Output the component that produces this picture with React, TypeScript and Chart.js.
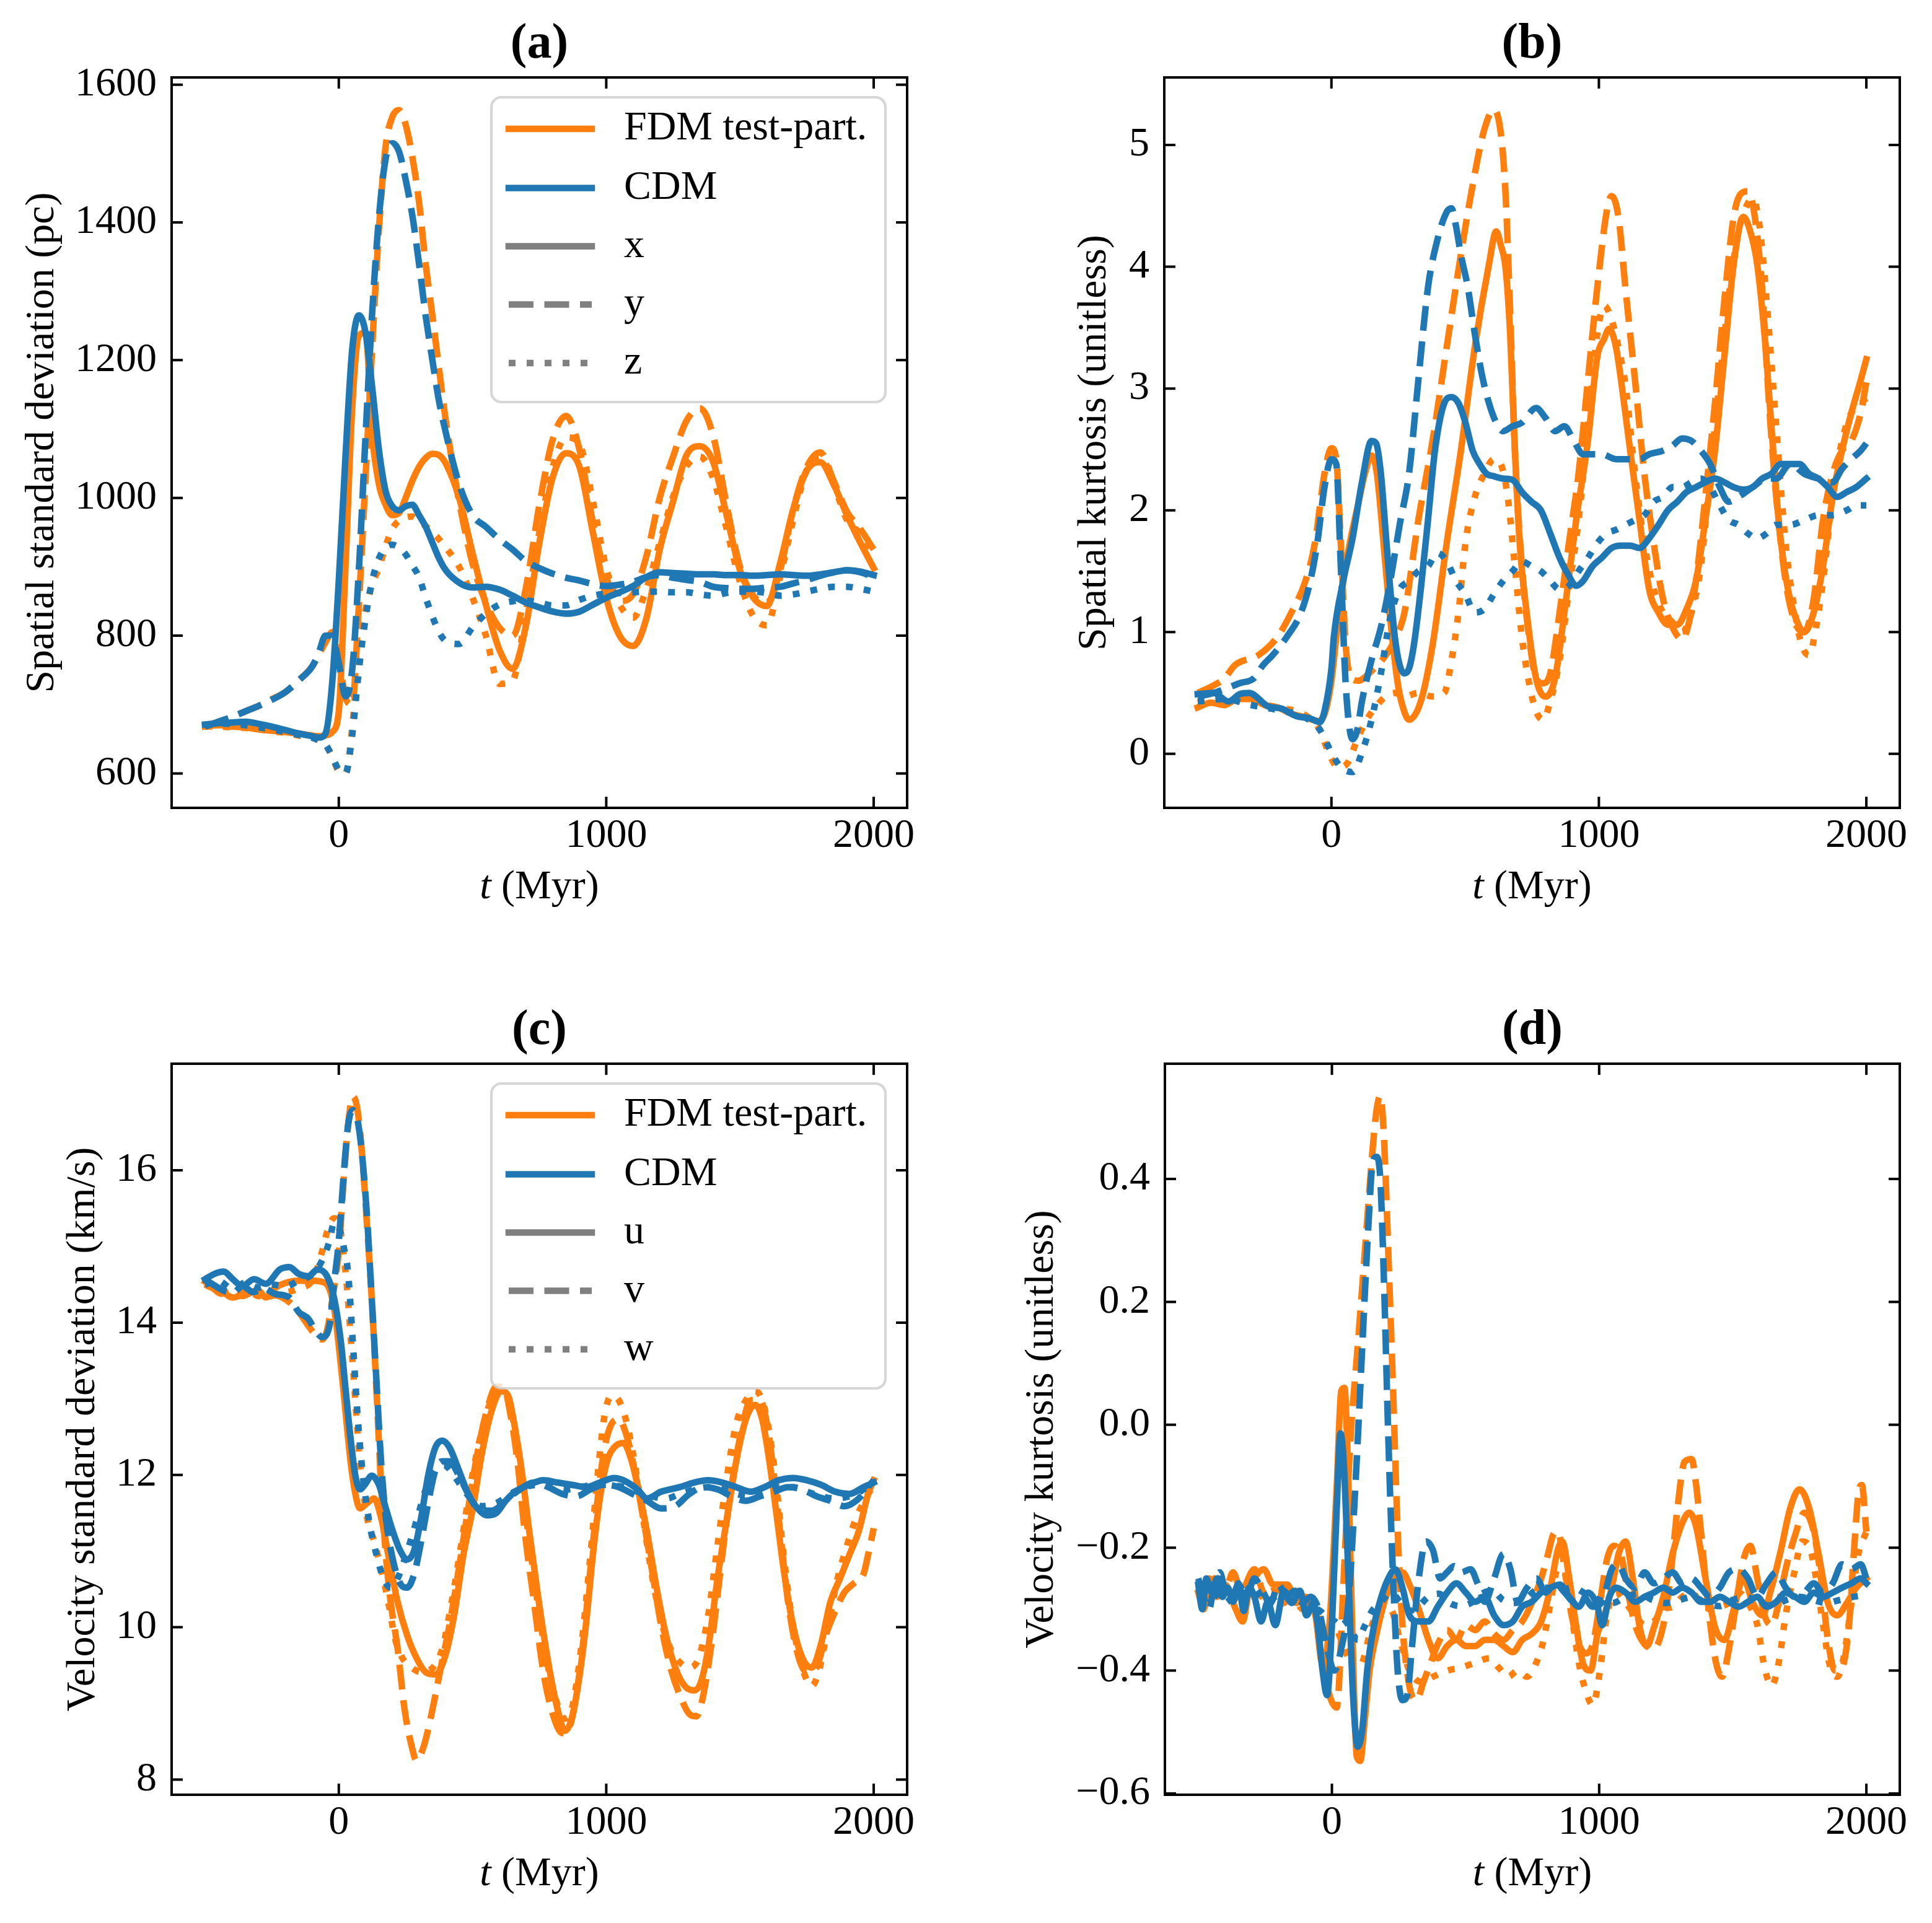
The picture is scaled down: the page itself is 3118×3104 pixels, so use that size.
import React, { useEffect, useRef } from "react";
import { Chart, registerables } from "chart.js";

Chart.register(...registerables);

const FONT = "'Liberation Serif', 'Times New Roman', Times, serif";
const FS = 66;
const TITLE_FS = 80;
const ORANGE = "#ff7f0e";
const BLUE = "#1f77b4";
const GRAY = "#808080";
const LINE_W = 10.5;
const DASH = [40, 17.5];
const DOT = [11, 18];
const TICK_LEN = 18;

// ---------- shared axis data ----------
const xTicks = [0, 1000, 2000];
const xRange = [-625, 2125];

// ---------- panel (a): spatial standard deviation (pc) ----------
const aT = [-500,-450,-400,-350,-300,-250,-200,-150,-100,-75,-50,-25,0,25,50,75,100,125,150,175,200,225,250,275,300,325,350,375,400,450,500,550,600,650,700,750,800,850,900,950,1000,1050,1100,1150,1200,1250,1300,1350,1400,1450,1500,1550,1600,1650,1700,1750,1800,1850,1900,1950,2000];
const aFdmX = [668,670,668,667,664,662,660,658,655,654,655,660,690,900,1130,1235,1240,1090,1020,990,975,978,1000,1025,1045,1058,1064,1062,1050,1000,920,845,780,752,815,935,1030,1065,1045,950,855,800,785,825,925,995,1062,1075,1052,975,895,855,843,905,985,1040,1052,1020,975,935,898];
const aFdmY = [668,675,682,690,698,708,718,735,755,772,790,805,770,710,700,845,1030,1220,1390,1510,1553,1563,1542,1495,1430,1339,1265,1187,1112,995,905,848,812,800,870,990,1085,1119,1070,965,885,850,860,915,1000,1060,1112,1130,1090,990,900,858,848,895,985,1045,1066,1025,980,955,925];
const aFdmZ = [668,668,667,666,664,661,659,655,652,648,642,625,603,600,665,780,838,875,898,930,955,967,972,973,966,959,950,940,928,900,855,800,730,735,835,950,1045,1088,1078,995,898,845,826,868,935,1002,1046,1060,1028,955,878,828,815,885,970,1041,1060,1020,968,948,912];
const aCdmX = [671,673,674,675,672,668,663,658,654,652,658,730,880,1060,1215,1265,1240,1160,1070,1010,988,982,988,990,975,958,935,912,895,877,870,871,867,858,848,841,835,832,835,845,855,863,872,885,892,891,890,889,889,888,888,887,888,889,888,887,889,892,895,893,888];
const aCdmY = [668,675,682,690,698,707,718,735,755,775,800,800,760,712,750,895,1090,1270,1407,1492,1515,1503,1462,1410,1340,1264,1200,1140,1095,1020,975,958,940,925,908,898,890,884,880,875,872,874,878,885,888,884,881,878,871,869,868,868,870,871,876,881,887,892,895,892,885];
const aCdmZ = [670,672,672,670,667,664,660,656,652,648,642,625,605,600,655,750,825,880,912,928,932,928,918,902,885,855,828,805,792,788,812,832,845,850,851,848,844,844,852,858,861,862,863,864,864,863,863,860,858,862,864,864,862,858,860,864,868,871,871,868,864];
const aYTicks = [600, 800, 1000, 1200, 1400, 1600];

// ---------- panel (b): spatial kurtosis ----------
const bFdmX: [number, number][] = [[-500,0.38],[-450,0.42],[-400,0.40],[-350,0.45],[-300,0.45],[-250,0.40],[-200,0.38],[-150,0.33],[-100,0.30],[-50,0.27],[-25,0.33],[0,0.6],[25,1.1],[50,1.5],[75,1.8],[100,2.05],[125,2.3],[150,2.45],[170,2.3],[200,1.6],[225,1.0],[250,0.55],[275,0.33],[290,0.28],[334,0.43],[378,0.89],[431,1.73],[484,2.49],[536,3.34],[589,4.02],[616,4.29],[633,4.18],[651,3.99],[668,3.46],[686,2.49],[704,1.73],[730,1.16],[765,0.62],[800,0.47],[836,0.62],[871,1.16],[915,1.92],[959,2.57],[994,3.26],[1020,3.41],[1038,3.49],[1064,3.34],[1090,2.95],[1117,2.49],[1152,1.92],[1188,1.35],[1223,1.16],[1258,1.06],[1293,1.06],[1328,1.19],[1363,1.42],[1398,1.92],[1434,2.49],[1469,3.26],[1504,4.02],[1540,4.41],[1566,4.29],[1592,4.02],[1619,3.45],[1645,2.69],[1672,1.92],[1707,1.35],[1742,1.08],[1768,1.0],[1803,1.16],[1838,1.54],[1874,2.11],[1909,2.49],[1944,2.80],[1979,3.07],[2000,3.24]];
const bFdmY: [number, number][] = [[-500,0.5],[-450,0.55],[-400,0.62],[-360,0.73],[-273,0.81],[-202,0.96],[-150,1.16],[-97,1.42],[-62,1.73],[-26,2.30],[0,2.51],[18,2.42],[35,1.73],[53,0.9],[75,0.62],[100,0.6],[150,0.68],[200,0.8],[240,0.95],[273,1.16],[325,1.92],[378,2.57],[431,3.34],[484,4.10],[528,4.67],[572,5.13],[607,5.29],[633,5.10],[651,4.60],[668,3.64],[686,2.49],[712,1.54],[739,0.96],[765,0.62],[792,0.58],[818,0.66],[853,1.16],[888,1.73],[924,2.30],[959,3.07],[994,3.83],[1029,4.45],[1047,4.58],[1073,4.41],[1099,3.83],[1135,3.07],[1170,2.30],[1205,1.73],[1240,1.27],[1275,1.04],[1311,0.94],[1337,1.08],[1363,1.42],[1398,2.11],[1434,2.88],[1469,3.72],[1504,4.41],[1531,4.60],[1557,4.62],[1583,4.41],[1610,3.83],[1636,2.88],[1663,2.11],[1698,1.42],[1733,1.08],[1768,1.0],[1803,1.27],[1838,1.92],[1874,2.30],[1909,2.49],[1944,2.57],[1979,2.80],[2000,3.05]];
const bFdmZ: [number, number][] = [[-500,0.42],[-400,0.45],[-300,0.42],[-200,0.38],[-100,0.32],[-44,0.2],[-9,0.0],[26,-0.11],[62,-0.07],[97,0.12],[132,0.28],[167,0.39],[202,0.47],[237,0.50],[273,0.47],[325,0.50],[378,0.47],[422,0.50],[449,0.77],[475,1.16],[501,1.73],[536,2.11],[572,2.30],[607,2.42],[633,2.38],[659,2.11],[686,1.54],[712,0.96],[739,0.58],[765,0.35],[792,0.28],[818,0.43],[853,0.77],[888,1.35],[924,1.92],[959,2.69],[994,3.45],[1020,3.68],[1047,3.57],[1073,3.34],[1099,3.03],[1135,2.30],[1170,1.73],[1205,1.35],[1240,1.16],[1275,1.08],[1311,1.0],[1346,1.16],[1381,1.54],[1416,2.30],[1452,3.07],[1486,3.76],[1522,4.29],[1548,4.48],[1575,4.56],[1601,4.33],[1627,3.72],[1663,2.69],[1698,1.73],[1733,1.16],[1759,0.89],[1786,0.81],[1812,1.04],[1838,1.42],[1874,2.11],[1909,2.57],[1944,2.80],[1979,2.88],[2000,2.92]];
const bCdmX: [number, number][] = [[-500,0.49],[-440,0.50],[-385,0.43],[-343,0.49],[-308,0.50],[-237,0.39],[-185,0.37],[-132,0.31],[-79,0.29],[-44,0.26],[-26,0.35],[0,0.7],[9,0.96],[44,1.42],[79,1.77],[114,2.23],[150,2.57],[167,2.55],[185,2.30],[202,1.84],[220,1.35],[237,0.96],[255,0.73],[273,0.66],[290,0.70],[308,0.89],[334,1.35],[361,1.92],[387,2.49],[422,2.88],[449,2.93],[475,2.88],[501,2.72],[528,2.49],[554,2.38],[580,2.30],[607,2.28],[642,2.26],[677,2.25],[712,2.15],[748,2.07],[783,2.0],[818,1.81],[853,1.61],[888,1.46],[915,1.38],[941,1.42],[976,1.54],[1011,1.61],[1047,1.69],[1082,1.71],[1117,1.71],[1152,1.69],[1188,1.77],[1223,1.88],[1258,2.0],[1293,2.07],[1328,2.15],[1363,2.19],[1398,2.23],[1434,2.26],[1469,2.23],[1504,2.19],[1540,2.17],[1575,2.19],[1610,2.26],[1645,2.30],[1680,2.38],[1715,2.38],[1750,2.38],[1786,2.30],[1821,2.26],[1856,2.19],[1891,2.11],[1927,2.15],[1962,2.19],[2000,2.26]];
const bCdmY: [number, number][] = [[-500,0.47],[-440,0.50],[-390,0.54],[-343,0.58],[-290,0.62],[-255,0.73],[-220,0.81],[-167,0.96],[-114,1.16],[-79,1.42],[-53,1.73],[-26,2.19],[0,2.42],[18,2.38],[35,1.54],[53,0.58],[79,0.12],[97,0.20],[114,0.43],[150,0.77],[185,1.04],[220,1.42],[255,1.88],[290,2.30],[325,3.07],[361,3.83],[396,4.22],[431,4.45],[449,4.48],[466,4.33],[484,4.10],[510,3.83],[536,3.45],[563,3.11],[589,2.88],[616,2.72],[642,2.65],[677,2.69],[712,2.72],[765,2.84],[800,2.76],[836,2.65],[871,2.69],[906,2.57],[941,2.46],[976,2.46],[1011,2.46],[1064,2.42],[1117,2.42],[1152,2.42],[1188,2.46],[1240,2.49],[1275,2.53],[1311,2.59],[1346,2.57],[1381,2.49],[1416,2.38],[1452,2.19],[1486,2.07],[1522,2.11],[1575,2.19],[1627,2.26],[1663,2.26],[1715,2.38],[1768,2.30],[1821,2.26],[1874,2.23],[1909,2.34],[1944,2.42],[1979,2.49],[2000,2.55]];
const bCdmZ: [number, number][] = [[-500,0.43],[-400,0.45],[-300,0.40],[-200,0.36],[-100,0.30],[-44,0.20],[0,0.01],[35,-0.11],[79,-0.15],[114,0.01],[150,0.28],[185,0.66],[220,1.12],[255,1.35],[290,1.42],[325,1.50],[361,1.54],[396,1.65],[431,1.58],[466,1.42],[501,1.31],[536,1.16],[572,1.19],[607,1.31],[642,1.42],[677,1.50],[712,1.58],[748,1.54],[783,1.50],[818,1.42],[853,1.35],[888,1.38],[924,1.50],[959,1.61],[994,1.73],[1029,1.81],[1064,1.84],[1099,1.88],[1135,1.92],[1170,1.96],[1205,2.07],[1240,2.11],[1275,2.19],[1311,2.19],[1346,2.23],[1381,2.26],[1416,2.19],[1452,2.04],[1486,1.92],[1522,1.88],[1557,1.81],[1592,1.77],[1627,1.81],[1663,1.88],[1715,1.88],[1768,1.92],[1821,1.96],[1874,1.96],[1927,2.0],[1962,2.04],[2000,2.04]];
const bYTicks = [0, 1, 2, 3, 4, 5];

// ---------- panel (c): velocity standard deviation (km/s) ----------
const cFdmU: [number, number][] = [[-500,14.54],[-449,14.45],[-396,14.33],[-343,14.39],[-300,14.42],[-273,14.33],[-240,14.45],[-200,14.52],[-150,14.55],[-100,14.55],[-50,14.52],[-18,14.2],[9,13.4],[26,12.8],[44,12.18],[62,11.75],[79,11.56],[106,11.63],[132,11.69],[158,11.44],[185,10.95],[220,10.33],[255,9.90],[290,9.60],[325,9.41],[361,9.38],[396,9.60],[431,10.15],[466,10.95],[501,11.56],[536,12.30],[572,12.85],[607,13.10],[633,13.04],[659,12.61],[686,12.0],[712,11.26],[748,10.33],[783,9.54],[818,8.92],[845,8.64],[871,8.80],[897,9.29],[924,10.03],[950,10.95],[976,11.69],[1003,12.18],[1029,12.36],[1064,12.42],[1090,12.24],[1117,11.87],[1152,11.26],[1188,10.52],[1223,9.90],[1258,9.47],[1293,9.23],[1328,9.17],[1355,9.29],[1381,9.72],[1416,10.64],[1452,11.44],[1486,12.18],[1522,12.73],[1557,12.92],[1583,12.73],[1610,12.18],[1636,11.50],[1663,10.77],[1698,10.03],[1733,9.60],[1768,9.47],[1803,9.78],[1838,10.33],[1874,10.64],[1909,10.95],[1944,11.26],[1979,11.75],[2000,11.93]];
const cFdmV: [number, number][] = [[-500,14.51],[-470,14.45],[-440,14.38],[-400,14.42],[-360,14.35],[-320,14.40],[-280,14.32],[-240,14.36],[-185,14.27],[-150,14.14],[-114,13.96],[-88,13.84],[-62,13.78],[-44,13.90],[-18,14.45],[0,14.94],[18,15.86],[35,16.60],[53,16.97],[70,16.79],[88,16.17],[106,15.25],[123,14.33],[141,13.10],[158,11.87],[176,10.95],[194,10.33],[220,9.72],[246,8.92],[273,8.43],[290,8.25],[317,8.43],[343,8.80],[378,9.41],[414,10.03],[449,10.77],[484,11.56],[519,12.30],[554,12.85],[589,13.16],[616,13.16],[642,12.79],[668,12.18],[695,11.26],[730,10.33],[765,9.41],[800,8.86],[836,8.61],[862,8.68],[888,9.11],[915,9.84],[941,10.77],[968,11.69],[994,12.36],[1020,12.67],[1047,12.73],[1073,12.55],[1099,12.18],[1135,11.50],[1170,10.77],[1205,10.03],[1240,9.47],[1275,9.11],[1311,8.86],[1337,8.83],[1363,9.11],[1398,9.90],[1434,10.95],[1469,11.87],[1504,12.55],[1540,12.98],[1575,12.98],[1601,12.67],[1627,11.99],[1654,11.13],[1680,10.33],[1715,9.66],[1750,9.41],[1786,9.47],[1821,9.90],[1856,10.21],[1891,10.46],[1927,10.58],[1962,10.70],[1979,10.95],[2000,11.30]];
const cFdmW: [number, number][] = [[-500,14.5],[-450,14.42],[-400,14.38],[-350,14.45],[-300,14.35],[-250,14.42],[-200,14.40],[-150,14.45],[-97,14.57],[-62,14.94],[-44,15.19],[-18,15.37],[0,15.30],[26,14.64],[53,13.41],[79,12.18],[106,11.44],[132,11.13],[158,10.77],[185,10.33],[211,9.84],[237,9.60],[273,9.47],[308,9.41],[352,9.47],[387,9.72],[422,10.33],[457,11.07],[493,11.87],[528,12.48],[563,12.92],[598,13.10],[624,13.10],[651,12.73],[677,12.12],[712,11.13],[748,10.21],[783,9.47],[818,8.98],[845,8.80],[871,8.92],[906,9.72],[941,10.95],[968,12.0],[994,12.79],[1020,13.04],[1047,12.98],[1073,12.73],[1099,12.30],[1135,11.50],[1170,10.70],[1205,10.09],[1240,9.72],[1275,9.54],[1311,9.47],[1346,9.60],[1381,10.15],[1416,11.07],[1452,11.99],[1486,12.67],[1522,12.98],[1557,13.10],[1583,12.98],[1610,12.55],[1636,11.87],[1663,10.95],[1698,10.03],[1733,9.47],[1768,9.23],[1794,9.41],[1830,10.03],[1865,10.64],[1900,11.07],[1935,11.44],[1970,11.69],[2000,11.87]];
const cCdmU: [number, number][] = [[-500,14.57],[-465,14.64],[-431,14.67],[-396,14.57],[-361,14.48],[-317,14.57],[-273,14.51],[-220,14.70],[-185,14.73],[-150,14.64],[-114,14.61],[-79,14.70],[-44,14.61],[-18,14.33],[9,13.71],[26,13.10],[44,12.48],[62,11.99],[79,11.81],[97,11.87],[123,11.99],[150,11.87],[176,11.56],[202,11.26],[229,11.01],[255,10.89],[282,11.01],[308,11.44],[334,11.99],[361,12.36],[387,12.45],[414,12.36],[449,12.06],[484,11.75],[519,11.56],[554,11.47],[589,11.50],[624,11.66],[660,11.78],[712,11.87],[765,11.93],[818,11.90],[871,11.87],[924,11.84],[976,11.90],[1029,11.96],[1064,11.93],[1117,11.81],[1152,11.69],[1205,11.78],[1275,11.84],[1328,11.90],[1381,11.93],[1434,11.90],[1486,11.84],[1540,11.78],[1592,11.84],[1645,11.93],[1698,11.96],[1750,11.93],[1803,11.87],[1856,11.78],[1909,11.75],[1962,11.84],[2000,11.90]];
const cCdmV: [number, number][] = [[-500,14.57],[-470,14.50],[-430,14.42],[-396,14.39],[-360,14.48],[-320,14.40],[-280,14.45],[-240,14.38],[-185,14.33],[-150,14.14],[-114,14.05],[-88,13.90],[-62,13.81],[-35,13.96],[-18,14.51],[0,15.07],[18,15.93],[35,16.60],[53,16.79],[70,16.66],[88,16.17],[106,15.37],[123,14.33],[141,13.22],[158,12.18],[176,11.44],[202,10.89],[229,10.58],[255,10.52],[282,10.70],[308,11.13],[334,11.63],[361,12.06],[387,12.18],[414,12.18],[449,11.99],[484,11.75],[519,11.56],[572,11.53],[624,11.66],[677,11.81],[730,11.90],[783,11.84],[836,11.75],[888,11.72],[941,11.81],[994,11.87],[1047,11.84],[1099,11.75],[1152,11.66],[1205,11.56],[1258,11.59],[1311,11.75],[1363,11.84],[1416,11.81],[1469,11.72],[1522,11.66],[1575,11.72],[1627,11.78],[1680,11.84],[1733,11.81],[1786,11.72],[1838,11.66],[1891,11.59],[1944,11.69],[1979,11.84],[2000,11.93]];
const cCdmW: [number, number][] = [[-500,14.5],[-450,14.55],[-400,14.45],[-350,14.52],[-300,14.46],[-250,14.50],[-200,14.48],[-150,14.55],[-97,14.64],[-62,14.82],[-35,15.07],[-18,15.31],[0,15.25],[18,15.0],[35,14.64],[53,13.71],[70,12.79],[88,12.06],[114,11.38],[141,10.95],[167,10.64],[194,10.52],[220,10.64],[246,10.89],[273,11.19],[299,11.50],[325,11.81],[361,12.06],[396,12.12],[431,11.99],[466,11.81],[501,11.66],[536,11.59],[589,11.63],[642,11.75],[695,11.84],[748,11.87],[800,11.84],[853,11.81],[906,11.84],[959,11.87],[1011,11.87],[1064,11.84],[1117,11.78],[1170,11.72],[1223,11.69],[1275,11.75],[1328,11.81],[1381,11.84],[1434,11.81],[1486,11.75],[1540,11.72],[1592,11.78],[1645,11.84],[1698,11.84],[1750,11.78],[1803,11.72],[1856,11.69],[1909,11.72],[1962,11.81],[2000,11.93]];
const cYTicks = [8, 10, 12, 14, 16];

// ---------- panel (d): velocity kurtosis ----------
const dFdmU: [number, number][] = [[-500,-0.273],[-480,-0.30],[-460,-0.25],[-430,-0.28],[-400,-0.26],[-360,-0.30],[-334,-0.32],[-310,-0.27],[-290,-0.25],[-255,-0.235],[-220,-0.26],[-167,-0.26],[-132,-0.29],[-100,-0.28],[-62,-0.31],[-35,-0.39],[-10,-0.33],[18,-0.10],[35,0.055],[47,0.06],[62,-0.10],[76,-0.33],[93,-0.54],[106,-0.547],[123,-0.48],[141,-0.40],[167,-0.34],[202,-0.28],[237,-0.25],[264,-0.24],[290,-0.26],[325,-0.30],[361,-0.35],[396,-0.38],[431,-0.36],[466,-0.35],[501,-0.36],[536,-0.36],[572,-0.35],[607,-0.35],[642,-0.36],[677,-0.37],[712,-0.35],[748,-0.34],[783,-0.32],[818,-0.265],[845,-0.204],[862,-0.19],[888,-0.25],[915,-0.33],[941,-0.39],[968,-0.40],[994,-0.34],[1020,-0.31],[1047,-0.265],[1073,-0.21],[1099,-0.19],[1126,-0.25],[1152,-0.33],[1179,-0.36],[1205,-0.33],[1240,-0.28],[1275,-0.21],[1311,-0.16],[1337,-0.143],[1363,-0.166],[1398,-0.25],[1434,-0.33],[1469,-0.35],[1504,-0.30],[1540,-0.25],[1575,-0.29],[1610,-0.31],[1645,-0.265],[1680,-0.204],[1715,-0.136],[1750,-0.105],[1786,-0.136],[1821,-0.21],[1856,-0.29],[1891,-0.31],[1927,-0.29],[1962,-0.265],[2000,-0.25]];
const dFdmV: [number, number][] = [[-500,-0.265],[-470,-0.29],[-440,-0.25],[-400,-0.27],[-370,-0.24],[-340,-0.27],[-290,-0.235],[-260,-0.27],[-230,-0.29],[-190,-0.265],[-150,-0.27],[-110,-0.30],[-70,-0.29],[-44,-0.36],[-9,-0.44],[18,-0.46],[44,-0.25],[70,-0.02],[97,0.13],[123,0.28],[150,0.436],[167,0.512],[181,0.535],[194,0.474],[211,0.28],[229,0.055],[246,-0.174],[264,-0.326],[290,-0.425],[317,-0.448],[343,-0.418],[370,-0.387],[396,-0.357],[431,-0.334],[466,-0.35],[501,-0.326],[536,-0.334],[572,-0.32],[607,-0.34],[642,-0.35],[677,-0.334],[712,-0.32],[748,-0.29],[783,-0.25],[809,-0.21],[827,-0.18],[845,-0.174],[871,-0.235],[897,-0.31],[924,-0.357],[950,-0.372],[976,-0.357],[1003,-0.29],[1029,-0.22],[1055,-0.197],[1082,-0.212],[1108,-0.273],[1135,-0.326],[1170,-0.357],[1205,-0.364],[1240,-0.326],[1266,-0.25],[1293,-0.136],[1320,-0.06],[1346,-0.056],[1363,-0.098],[1381,-0.174],[1407,-0.29],[1434,-0.38],[1460,-0.41],[1486,-0.364],[1513,-0.29],[1540,-0.22],[1566,-0.197],[1592,-0.25],[1619,-0.31],[1645,-0.326],[1672,-0.29],[1698,-0.235],[1733,-0.18],[1768,-0.143],[1803,-0.174],[1830,-0.25],[1856,-0.35],[1883,-0.40],[1909,-0.395],[1935,-0.326],[1953,-0.21],[1970,-0.113],[1983,-0.098],[2000,-0.174]];
const dFdmW: [number, number][] = [[-500,-0.27],[-460,-0.28],[-420,-0.26],[-380,-0.29],[-340,-0.27],[-300,-0.26],[-260,-0.28],[-220,-0.27],[-180,-0.29],[-140,-0.27],[-100,-0.28],[-60,-0.30],[-18,-0.34],[10,-0.33],[35,-0.35],[62,-0.38],[88,-0.40],[114,-0.387],[150,-0.326],[185,-0.296],[220,-0.30],[255,-0.35],[290,-0.40],[334,-0.418],[378,-0.41],[431,-0.40],[484,-0.395],[536,-0.387],[589,-0.38],[624,-0.395],[660,-0.41],[695,-0.40],[730,-0.41],[765,-0.387],[792,-0.35],[818,-0.29],[845,-0.235],[871,-0.242],[897,-0.31],[924,-0.387],[950,-0.433],[976,-0.456],[1003,-0.40],[1029,-0.31],[1064,-0.273],[1099,-0.29],[1135,-0.31],[1170,-0.326],[1205,-0.32],[1240,-0.30],[1275,-0.296],[1311,-0.28],[1346,-0.273],[1381,-0.29],[1416,-0.30],[1452,-0.296],[1486,-0.29],[1522,-0.273],[1557,-0.29],[1592,-0.326],[1619,-0.395],[1645,-0.425],[1672,-0.387],[1698,-0.31],[1733,-0.235],[1759,-0.19],[1786,-0.197],[1812,-0.25],[1838,-0.326],[1865,-0.395],[1891,-0.41],[1918,-0.372],[1944,-0.29],[1970,-0.21],[2000,-0.174]];
const dCdmU: [number, number][] = [[-500,-0.26],[-485,-0.30],[-470,-0.25],[-450,-0.273],[-430,-0.25],[-410,-0.28],[-390,-0.265],[-370,-0.288],[-350,-0.258],[-330,-0.303],[-310,-0.265],[-290,-0.28],[-265,-0.32],[-240,-0.288],[-212,-0.326],[-180,-0.27],[-150,-0.29],[-120,-0.27],[-95,-0.31],[-70,-0.29],[-53,-0.326],[-35,-0.40],[-18,-0.44],[0,-0.326],[18,-0.136],[32,-0.014],[44,-0.06],[62,-0.25],[79,-0.44],[97,-0.524],[114,-0.494],[132,-0.40],[158,-0.326],[185,-0.28],[211,-0.25],[237,-0.235],[264,-0.265],[290,-0.31],[325,-0.32],[361,-0.32],[396,-0.296],[431,-0.273],[466,-0.258],[501,-0.273],[536,-0.288],[572,-0.28],[607,-0.31],[642,-0.326],[677,-0.32],[712,-0.296],[748,-0.288],[783,-0.273],[818,-0.265],[853,-0.26],[888,-0.28],[924,-0.296],[959,-0.273],[994,-0.296],[1011,-0.326],[1038,-0.28],[1064,-0.265],[1099,-0.273],[1135,-0.288],[1170,-0.28],[1205,-0.273],[1240,-0.265],[1275,-0.273],[1311,-0.265],[1346,-0.273],[1381,-0.288],[1416,-0.288],[1452,-0.28],[1486,-0.288],[1522,-0.296],[1557,-0.288],[1592,-0.28],[1627,-0.296],[1663,-0.288],[1698,-0.273],[1733,-0.28],[1768,-0.288],[1803,-0.273],[1838,-0.28],[1874,-0.273],[1909,-0.265],[1944,-0.258],[1979,-0.25],[2000,-0.258]];
const dCdmV: [number, number][] = [[-500,-0.25],[-480,-0.28],[-460,-0.30],[-440,-0.26],[-420,-0.24],[-400,-0.27],[-380,-0.29],[-350,-0.26],[-320,-0.28],[-290,-0.25],[-260,-0.27],[-230,-0.29],[-200,-0.26],[-170,-0.28],[-140,-0.27],[-110,-0.29],[-80,-0.28],[-50,-0.30],[-18,-0.364],[9,-0.40],[35,-0.364],[62,-0.288],[88,-0.098],[114,0.131],[136,0.32],[153,0.428],[167,0.436],[181,0.40],[194,0.245],[211,-0.02],[229,-0.25],[246,-0.40],[264,-0.448],[282,-0.44],[299,-0.364],[325,-0.25],[352,-0.19],[378,-0.204],[405,-0.25],[431,-0.24],[457,-0.23],[484,-0.24],[519,-0.235],[545,-0.258],[572,-0.288],[607,-0.25],[642,-0.21],[668,-0.235],[695,-0.288],[730,-0.265],[765,-0.25],[800,-0.273],[836,-0.258],[871,-0.273],[906,-0.288],[941,-0.28],[976,-0.296],[1011,-0.288],[1047,-0.235],[1073,-0.227],[1099,-0.25],[1135,-0.265],[1170,-0.24],[1205,-0.258],[1240,-0.25],[1275,-0.24],[1311,-0.258],[1346,-0.25],[1381,-0.265],[1416,-0.28],[1452,-0.265],[1486,-0.24],[1522,-0.235],[1557,-0.25],[1592,-0.28],[1627,-0.258],[1663,-0.24],[1698,-0.265],[1733,-0.28],[1768,-0.273],[1803,-0.258],[1838,-0.273],[1874,-0.258],[1909,-0.227],[1944,-0.235],[1979,-0.227],[2000,-0.25]];
const dCdmW: [number, number][] = [[-500,-0.28],[-450,-0.27],[-400,-0.29],[-350,-0.27],[-300,-0.28],[-250,-0.27],[-200,-0.29],[-150,-0.28],[-100,-0.29],[-44,-0.303],[0,-0.32],[26,-0.31],[62,-0.326],[97,-0.35],[120,-0.33],[150,-0.303],[185,-0.288],[220,-0.273],[255,-0.288],[290,-0.303],[325,-0.295],[361,-0.28],[400,-0.275],[440,-0.29],[480,-0.295],[520,-0.29],[560,-0.275],[600,-0.27],[640,-0.285],[680,-0.29],[720,-0.285],[760,-0.27],[800,-0.265],[850,-0.27],[900,-0.265],[950,-0.275],[1000,-0.285],[1050,-0.29],[1100,-0.28],[1150,-0.275],[1200,-0.285],[1250,-0.29],[1300,-0.285],[1350,-0.28],[1400,-0.29],[1450,-0.295],[1500,-0.285],[1550,-0.28],[1600,-0.29],[1650,-0.295],[1700,-0.285],[1750,-0.28],[1800,-0.285],[1850,-0.29],[1900,-0.285],[1950,-0.28],[2000,-0.277]];
const dYTicks = [-0.6, -0.4, -0.2, 0.0, 0.2, 0.4];

const legendSpatial = ["FDM test-part.", "CDM", "x", "y", "z"];
const legendVelocity = ["FDM test-part.", "CDM", "u", "v", "w"];

type Pair = [number, number];
const zip = (t: number[], v: number[]): Pair[] => t.map((x, i) => [x, v[i]]);

interface PanelSpec {
  key: string;
  title: string;
  yLabel: string;
  yRange: [number, number];
  yTicks: number[];
  yFmt: (v: number) => string;
  fdm: Pair[][];
  cdm: Pair[][];
  legend: string[] | null;
  left: number; top: number; w: number; h: number;
  area: { l: number; r: number; t: number; b: number };
  titleY: number;
  yTitleX: number;
}

const intFmt = (v: number) => String(Math.round(v));
const decFmt = (v: number) => v.toFixed(1).replace("-", "\u2212");

const PANELS: PanelSpec[] = [
  {
    key: "a", title: "(a)", yLabel: "Spatial standard deviation (pc)",
    yRange: [550, 1610.5], yTicks: aYTicks, yFmt: intFmt,
    fdm: [zip(aT, aFdmX), zip(aT, aFdmY), zip(aT, aFdmZ)],
    cdm: [zip(aT, aCdmX), zip(aT, aCdmY), zip(aT, aCdmZ)],
    legend: legendSpatial,
    left: 0, top: 0, w: 1559, h: 1552,
    area: { l: 277, r: 1464, t: 125, b: 1304 }, titleY: 72, yTitleX: 69,
  },
  {
    key: "b", title: "(b)", yLabel: "Spatial kurtosis (unitless)",
    yRange: [-0.444, 5.555], yTicks: bYTicks, yFmt: intFmt,
    fdm: [bFdmX, bFdmY, bFdmZ], cdm: [bCdmX, bCdmY, bCdmZ],
    legend: null,
    left: 1559, top: 0, w: 1559, h: 1552,
    area: { l: 320, r: 1507, t: 125, b: 1304 }, titleY: 72, yTitleX: 208,
  },
  {
    key: "c", title: "(c)", yLabel: "Velocity standard deviation (km/s)",
    yRange: [7.8, 17.4], yTicks: cYTicks, yFmt: intFmt,
    fdm: [cFdmU, cFdmV, cFdmW], cdm: [cCdmU, cCdmV, cCdmW],
    legend: legendVelocity,
    left: 0, top: 1552, w: 1559, h: 1552,
    area: { l: 277, r: 1464, t: 165, b: 1345 }, titleY: 112, yTitleX: 135,
  },
  {
    key: "d", title: "(d)", yLabel: "Velocity kurtosis (unitless)",
    yRange: [-0.602, 0.5875], yTicks: dYTicks, yFmt: decFmt,
    fdm: [dFdmU, dFdmV, dFdmW], cdm: [dCdmU, dCdmV, dCdmW],
    legend: null,
    left: 1559, top: 1552, w: 1559, h: 1552,
    area: { l: 321, r: 1507, t: 165, b: 1345 }, titleY: 112, yTitleX: 123,
  },
];

function roundRectPath(ctx: CanvasRenderingContext2D, x: number, y: number, w: number, h: number, r: number) {
  ctx.beginPath();
  ctx.moveTo(x + r, y);
  ctx.lineTo(x + w - r, y);
  ctx.arcTo(x + w, y, x + w, y + r, r);
  ctx.lineTo(x + w, y + h - r);
  ctx.arcTo(x + w, y + h, x + w - r, y + h, r);
  ctx.lineTo(x + r, y + h);
  ctx.arcTo(x, y + h, x, y + h - r, r);
  ctx.lineTo(x, y + r);
  ctx.arcTo(x, y, x + r, y, r);
  ctx.closePath();
}

function buildConfig(p: PanelSpec): any {
  const styles = [[], DASH, DOT];
  const drawOrder: any[] = [];
  const groups: [Pair[][], string][] = [[p.fdm, ORANGE], [p.cdm, BLUE]];
  groups.forEach(([series, color]) => {
    series.forEach((s, i) => {
      drawOrder.push({
        data: s.map(([x, y]) => ({ x, y })),
        borderColor: color,
        backgroundColor: color,
        borderWidth: LINE_W,
        borderDash: styles[i],
        borderCapStyle: i === 0 ? "square" : "butt",
        borderJoinStyle: "round",
        pointRadius: 0,
        pointHoverRadius: 0,
        cubicInterpolationMode: "monotone",
        fill: false,
        clip: 0,
      });
    });
  });
  // Chart.js draws dataset 0 last (on top): reverse so CDM ends up above FDM
  const datasets = drawOrder.slice().reverse();

  const a = p.area;
  const titleTop = p.titleY - (TITLE_FS * 1.2) / 2;
  const titleBottom = a.t - p.titleY - (TITLE_FS * 1.2) / 2;

  const decor = {
    id: "decor" + p.key,
    afterDatasetsDraw(chart: any) {
      const { ctx, chartArea: ca, scales } = chart;
      ctx.save();
      // spines
      ctx.setLineDash([]);
      ctx.strokeStyle = "#000";
      ctx.lineWidth = 4;
      ctx.strokeRect(ca.left, ca.top, ca.right - ca.left, ca.bottom - ca.top);
      // inward ticks on all four sides
      ctx.lineCap = "butt";
      ctx.beginPath();
      for (const t of scales.x.ticks) {
        const px = scales.x.getPixelForValue(t.value);
        ctx.moveTo(px, ca.bottom);
        ctx.lineTo(px, ca.bottom - TICK_LEN);
        ctx.moveTo(px, ca.top);
        ctx.lineTo(px, ca.top + TICK_LEN);
      }
      for (const t of scales.y.ticks) {
        const py = scales.y.getPixelForValue(t.value);
        ctx.moveTo(ca.left, py);
        ctx.lineTo(ca.left + TICK_LEN, py);
        ctx.moveTo(ca.right, py);
        ctx.lineTo(ca.right - TICK_LEN, py);
      }
      ctx.stroke();

      // legend
      if (p.legend) {
        const bx = ca.right - 671;
        const by = ca.top + 32;
        const bw = 636;
        const bh = 492;
        roundRectPath(ctx, bx, by, bw, bh, 16);
        ctx.fillStyle = "rgba(255,255,255,0.8)";
        ctx.fill();
        ctx.strokeStyle = "rgba(204,204,204,0.8)";
        ctx.lineWidth = 4.2;
        ctx.stroke();
        const rows = [83, 178.5, 272.5, 366.5, 461];
        const handles = [
          { c: ORANGE, d: [] as number[] },
          { c: BLUE, d: [] as number[] },
          { c: GRAY, d: [] as number[] },
          { c: GRAY, d: DASH },
          { c: GRAY, d: DOT },
        ];
        rows.forEach((ry, i) => {
          const y = ca.top + ry;
          const h = handles[i];
          ctx.beginPath();
          ctx.setLineDash(h.d);
          ctx.lineCap = h.d.length ? "butt" : "square";
          ctx.strokeStyle = h.c;
          ctx.lineWidth = LINE_W;
          ctx.moveTo(bx + 28, y);
          ctx.lineTo(bx + 162, y);
          ctx.stroke();
          ctx.setLineDash([]);
          ctx.fillStyle = "#000";
          ctx.font = `${FS}px ${FONT}`;
          ctx.textBaseline = "middle";
          ctx.textAlign = "left";
          ctx.fillText(p.legend![i], bx + 214, y);
        });
      }

      // x-axis label: italic t + (Myr)
      const cx = (ca.left + ca.right) / 2;
      ctx.fillStyle = "#000";
      ctx.textBaseline = "alphabetic";
      ctx.textAlign = "left";
      ctx.font = `italic ${FS}px ${FONT}`;
      const w1 = ctx.measureText("t").width;
      ctx.font = `${FS}px ${FONT}`;
      const w2 = ctx.measureText(" (Myr)").width;
      const x0 = cx - (w1 + w2) / 2;
      const yb = ca.bottom + 146;
      ctx.font = `italic ${FS}px ${FONT}`;
      ctx.fillText("t", x0, yb);
      ctx.font = `${FS}px ${FONT}`;
      ctx.fillText(" (Myr)", x0 + w1, yb);
      ctx.restore();
    },
  };

  return {
    type: "line",
    data: { datasets },
    options: {
      animation: false,
      responsive: false,
      maintainAspectRatio: false,
      devicePixelRatio: 1,
      events: [],
      parsing: false,
      normalized: true,
      layout: { autoPadding: false, padding: { left: 0, right: p.w - a.r, top: 0, bottom: 0 } },
      plugins: {
        legend: { display: false },
        tooltip: { enabled: false },
        title: {
          display: true,
          text: p.title,
          color: "#000",
          fullSize: false,
          font: { family: FONT, size: TITLE_FS, weight: "bold" },
          padding: { top: titleTop, bottom: titleBottom },
        },
      },
      scales: {
        x: {
          type: "linear",
          min: xRange[0],
          max: xRange[1],
          grid: { display: false, drawTicks: false },
          border: { display: false },
          afterBuildTicks: (scale: any) => {
            scale.ticks = xTicks.map((v) => ({ value: v }));
          },
          afterFit: (scale: any) => {
            scale.height = p.h - a.b;
          },
          ticks: {
            color: "#000",
            font: { family: FONT, size: FS },
            padding: 6,
            maxRotation: 0,
            minRotation: 0,
            autoSkip: false,
            callback: (v: number) => intFmt(v),
          },
        },
        y: {
          type: "linear",
          min: p.yRange[0],
          max: p.yRange[1],
          grid: { display: false, drawTicks: false },
          border: { display: false },
          afterBuildTicks: (scale: any) => {
            scale.ticks = p.yTicks.map((v) => ({ value: v }));
          },
          afterFit: (scale: any) => {
            scale.width = a.l;
          },
          ticks: {
            color: "#000",
            font: { family: FONT, size: FS },
            padding: 24,
            autoSkip: false,
            callback: (v: number) => p.yFmt(v),
          },
          title: {
            display: true,
            text: p.yLabel,
            color: "#000",
            font: { family: FONT, size: FS },
            padding: { top: p.yTitleX - (FS * 1.2) / 2, bottom: 0 },
          },
        },
      },
    },
    plugins: [decor],
  };
}

function Panel({ spec }: { spec: PanelSpec }) {
  const ref = useRef<HTMLCanvasElement | null>(null);
  useEffect(() => {
    if (!ref.current) return;
    const chart = new Chart(ref.current, buildConfig(spec));
    return () => chart.destroy();
  }, [spec]);
  return (
    <canvas
      ref={ref}
      width={spec.w}
      height={spec.h}
      style={{ position: "absolute", left: spec.left, top: spec.top, width: spec.w, height: spec.h }}
    />
  );
}

export default function App() {
  return (
    <div style={{ position: "absolute", left: 0, top: 0, width: 3118, height: 3104, background: "#fff" }}>
      {PANELS.map((p) => (
        <Panel key={p.key} spec={p} />
      ))}
    </div>
  );
}
